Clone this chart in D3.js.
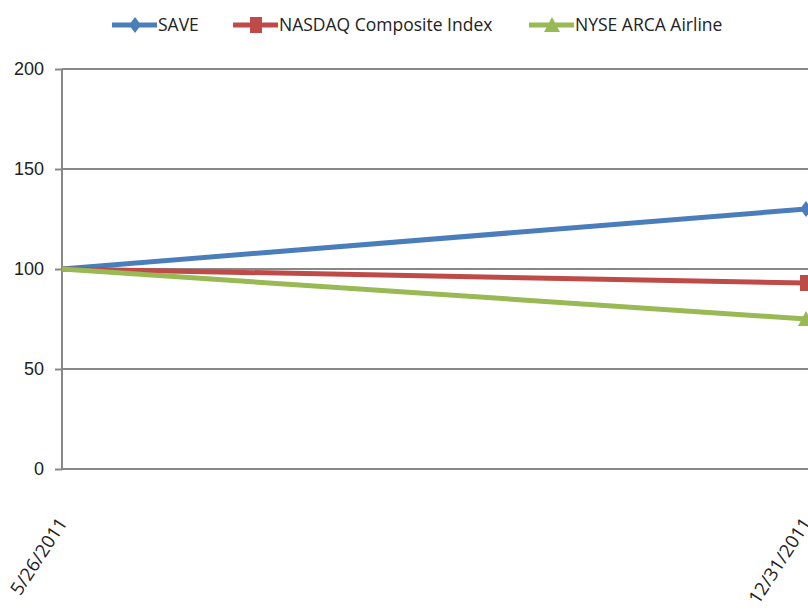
<!DOCTYPE html>
<html>
<head>
<meta charset="utf-8">
<script src="https://cdn.jsdelivr.net/npm/d3@7"></script>
<style>
  body { margin: 0; background: #fff; }
  svg { display: block; font-family: "Open Sans", "Liberation Sans", sans-serif; }
  .tick text { font-size: 18px; fill: #222; }
</style>
</head>
<body>
<svg id="chart" width="808" height="612"></svg>
<script>
// Data.
const dates = ["5/26/2011", "12/31/2011"];
const saveValues = [100, 130];
const nasdaqValues = [100, 93];
const airlineValues = [100, 75];
const yTicks = [0, 50, 100, 150, 200];

const series = [
  { name: "SAVE", values: saveValues, color: "#4a7ebb", marker: "diamond" },
  { name: "NASDAQ Composite Index", values: nasdaqValues, color: "#be4b48", marker: "square" },
  { name: "NYSE ARCA Airline", values: airlineValues, color: "#98b954", marker: "triangle" }
];

const svg = d3.select("#chart");
const plotLeft = 62, plotRight = 806, plotTop = 69, plotBottom = 469;

const x = d3.scalePoint().domain(dates).range([plotLeft, plotRight]);
const y = d3.scaleLinear().domain([0, 200]).range([plotBottom, plotTop]);

// Grid.
svg.append("g")
  .selectAll("line")
  .data(yTicks.filter(d => d > 0))
  .join("line")
  .attr("x1", plotLeft).attr("x2", 808)
  .attr("y1", d => y(d)).attr("y2", d => y(d))
  .attr("stroke", "#888").attr("stroke-width", 2);

// Y axis.
const yAxis = svg.append("g")
  .attr("transform", `translate(${plotLeft},0)`)
  .call(d3.axisLeft(y).tickValues(yTicks).tickSize(7).tickPadding(11));
yAxis.selectAll("line, path").attr("stroke", "#888").attr("stroke-width", 2);
yAxis.select(".domain").attr("d", `M0,${plotTop}V${plotBottom}`);

// X axis line.
svg.append("line")
  .attr("x1", plotLeft).attr("x2", 808)
  .attr("y1", plotBottom).attr("y2", plotBottom)
  .attr("stroke", "#888").attr("stroke-width", 2);

// X labels.
svg.append("g")
  .selectAll("text")
  .data(dates)
  .join("text")
  .attr("transform", d => `translate(${x(d) + 6},${plotBottom + 54}) rotate(-57)`)
  .attr("text-anchor", "end")
  .attr("font-size", 18.5)
  .attr("fill", "#222")
  .text(d => d);

// Markers.
const markerPath = {
  diamond: "M0,-8L6,0L0,8L-6,0Z",
  square: "M-6,-8H6V8H-6Z",
  triangle: "M0,-8L8,7H-8Z"
};

const line = d3.line().x((d, i) => x(dates[i])).y(d => y(d));

series.forEach(s => {
  svg.append("path")
    .attr("d", line(s.values))
    .attr("fill", "none")
    .attr("stroke", s.color)
    .attr("stroke-width", 5);
  svg.append("g")
    .selectAll("path")
    .data(s.values.slice(1))
    .join("path")
    .attr("transform", (d, i) => `translate(${x(dates[i + 1])},${y(d)})`)
    .attr("d", markerPath[s.marker])
    .attr("fill", s.color);
});

// Legend.
const legendX = [112, 233, 529];
const legend = svg.append("g")
  .selectAll("g")
  .data(series)
  .join("g")
  .attr("transform", (d, i) => `translate(${legendX[i]},25)`);
legend.append("line")
  .attr("x1", 0).attr("x2", 45)
  .attr("stroke", d => d.color).attr("stroke-width", 5);
legend.append("path")
  .attr("transform", "translate(23,0)")
  .attr("d", d => markerPath[d.marker])
  .attr("fill", d => d.color);
legend.append("text")
  .attr("x", 46).attr("dy", "0.35em")
  .attr("font-size", 17.5)
  .attr("fill", "#222")
  .text(d => d.name);
</script>
</body>
</html>
